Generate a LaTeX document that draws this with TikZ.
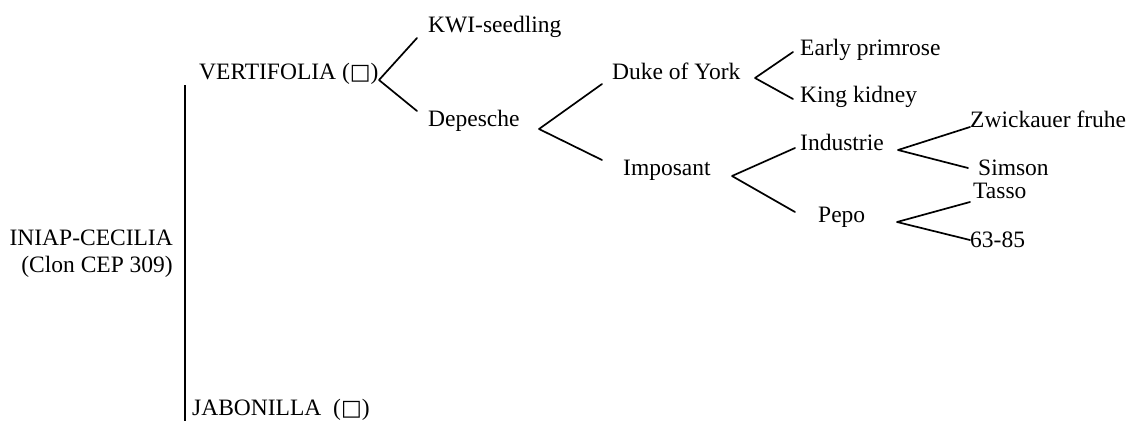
\documentclass[tikz,border=0pt]{standalone}
\usepackage{fontspec}
\setmainfont{Liberation Serif}
\newfontfamily\symfont{DejaVu Sans}
\newcommand{\sqbox}{{\symfont\fontsize{22}{22}\selectfont □}}
\begin{document}
\begin{tikzpicture}[x=1pt,y=-1pt,
  lbl/.style={anchor=base west,inner sep=0pt,font=\rmfamily\fontsize{23.5}{28}\selectfont},
  lblr/.style={anchor=base east,inner sep=0pt,font=\rmfamily\fontsize{23.5}{28}\selectfont},
  branch/.style={line width=1.7pt,line cap=round},
  stem/.style={line width=2.2pt}]
\useasboundingbox (0,0) rectangle (1131,421);
% labels
\node[lblr] (ini1) at (173,245) {INIAP-CECILIA};
\node[lblr] (ini2) at (173,272) {(Clon CEP 309)};
\node[lbl] (vert) at (199,79) {VERTIFOLIA (\sqbox)};
\node[lbl] (jab) at (192,415) {JABONILLA\ \ (\sqbox)};
\node[lbl] (kwi) at (428,32) {KWI-seedling};
\node[lbl] (dep) at (428,126) {Depesche};
\node[lbl] (duke) at (612,79) {Duke of York};
\node[lbl] (imp) at (623,175) {Imposant};
\node[lbl] (early) at (800,55) {Early primrose};
\node[lbl] (king) at (800,102) {King kidney};
\node[lbl] (ind) at (800,150) {Industrie};
\node[lbl] (pepo) at (818,222) {Pepo};
\node[lbl] (zw) at (970,127) {Zwickauer fruhe};
\node[lbl] (sim) at (978,175) {Simson};
\node[lbl] (tasso) at (973,198) {Tasso};
\node[lbl] (n6385) at (970,247) {63-85};
% stem
\coordinate (stemtop) at (185,85);
\coordinate (stembot) at (185,421);
\draw[stem] (stemtop) -- (stembot);
% junctions and ends
\coordinate (jV) at (379,80);
\coordinate (eKwi) at (417,38);
\coordinate (eDep) at (417,111);
\coordinate (jD) at (539,129);
\coordinate (eDuke) at (602,84);
\coordinate (eImp) at (602,160);
\coordinate (jY) at (755,78);
\coordinate (eEarly) at (793,52);
\coordinate (eKing) at (793,99);
\coordinate (jI) at (732,176);
\coordinate (eInd) at (795,148);
\coordinate (ePepo) at (795,212);
\coordinate (jN) at (898,150);
\coordinate (eZw) at (970,127);
\coordinate (eSim) at (968,168);
\coordinate (jP) at (897,222);
\coordinate (eTasso) at (970,202);
\coordinate (e63) at (970,240);
\draw[branch] (jV) -- (eKwi) (jV) -- (eDep);
\draw[branch] (jD) -- (eDuke) (jD) -- (eImp);
\draw[branch] (jY) -- (eEarly) (jY) -- (eKing);
\draw[branch] (jI) -- (eInd) (jI) -- (ePepo);
\draw[branch] (jN) -- (eZw) (jN) -- (eSim);
\draw[branch] (jP) -- (eTasso) (jP) -- (e63);
\end{tikzpicture}
\end{document}
